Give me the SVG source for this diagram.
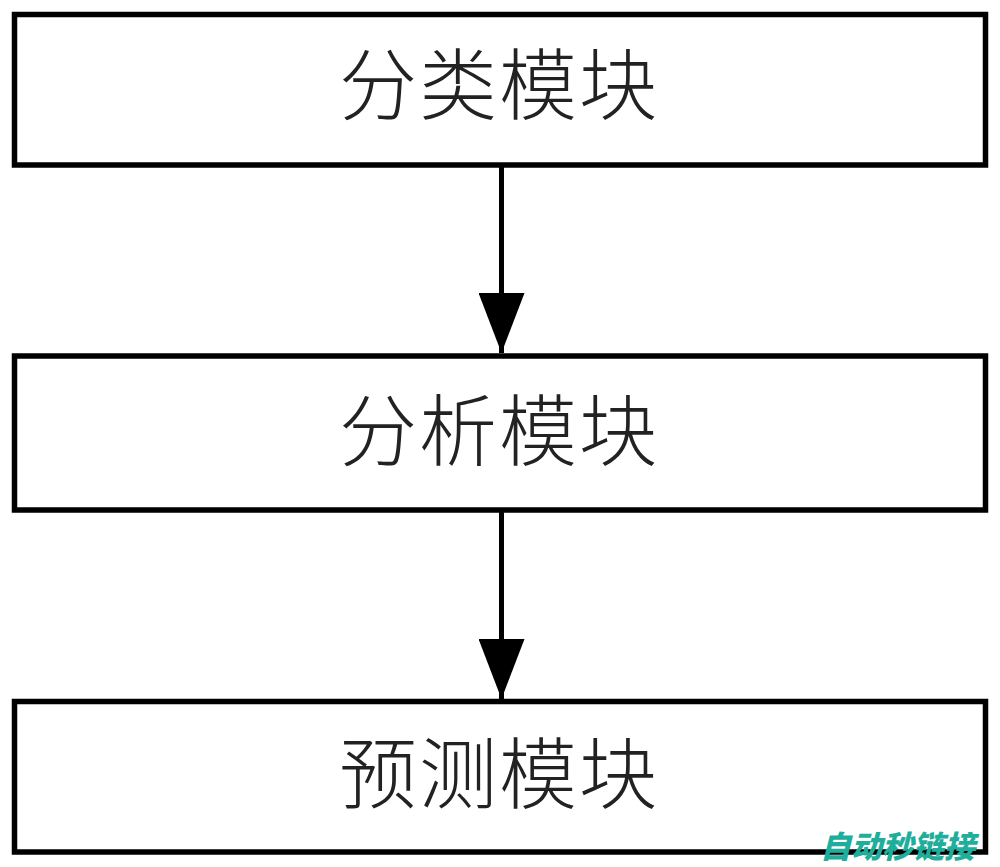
<svg xmlns="http://www.w3.org/2000/svg" width="1000" height="867" viewBox="0 0 1000 867">
<defs>
<style>
.box{fill:#fff;stroke:#000;stroke-width:5.5}
.lbl{font-family:"Noto Sans CJK SC","Noto Sans",sans-serif;font-size:78px;font-weight:300;fill:#222;text-anchor:middle;dominant-baseline:central;letter-spacing:2px}
.edge{stroke:#000;stroke-width:5;fill:none}
.wm{font-family:"Noto Sans CJK SC",sans-serif;font-size:31px;font-weight:900;font-style:italic;fill:#1fae9c}
</style>
<marker id="ah" viewBox="0 0 60 46" refX="60" refY="23" markerWidth="60" markerHeight="46" markerUnits="userSpaceOnUse" orient="auto">
<path d="M0,0 L60,23 L0,46 Z" fill="#000"/>
</marker>
</defs>
<rect width="1000" height="867" fill="#fff"/>
<g id="connectors">
<line class="edge" x1="501.5" y1="165" x2="501.5" y2="353" marker-end="url(#ah)"/>
<line class="edge" x1="501.5" y1="510" x2="501.5" y2="699" marker-end="url(#ah)"/>
</g>
<g id="n1">
<rect class="box" x="14.5" y="14.5" width="971" height="150.5"/>
<text class="lbl" x="499" y="80">分类模块</text>
</g>
<g id="n2">
<rect class="box" x="14.5" y="356" width="971" height="154"/>
<text class="lbl" x="499" y="426">分析模块</text>
</g>
<g id="n3">
<rect class="box" x="14.5" y="701.5" width="971" height="150.5"/>
<text class="lbl" x="499" y="769">预测模块</text>
</g>
<text class="wm" x="820" y="858" textLength="155" lengthAdjust="spacingAndGlyphs">自动秒链接</text>
</svg>
